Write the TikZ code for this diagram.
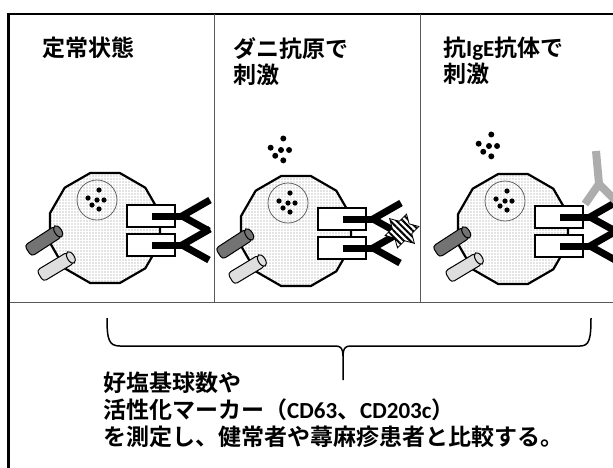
\documentclass[tikz,border=0pt]{standalone}
\usepackage{fontspec}
\setmainfont{Noto Sans CJK JP}[BoldFont={* Bold}]
\newfontfamily\lat{Carlito}
\usetikzlibrary{patterns.meta}

\definecolor{cyldark}{gray}{0.45}
\definecolor{cyllight}{gray}{0.87}
\definecolor{antigray}{gray}{0.68}

\tikzset{
  cellwall/.style={line width=2.2pt, preaction={fill=white},
    pattern={Dots[distance=3pt,radius=0.55pt]}, pattern color=gray!90},
  nucleus/.style={draw=gray!80!black, line width=0.8pt},
  recbox/.style={draw, line width=1.8pt, fill=white},
  ige/.style={line width=7pt, black},
  antiige/.style={line width=8pt, antigray},
  cylbody/.style={draw, line width=1pt, rounded corners=3.5pt},
  cylcap/.style={draw, line width=1pt},
  antigen/.style={draw, line width=0.8pt, preaction={fill=white},
    pattern={Lines[angle=-45,distance=4.5pt,line width=2pt]}},
  divider/.style={draw=gray!70!black, line width=1pt},
  headtxt/.style={anchor=north west, inner sep=0pt, align=left,
    font=\bfseries\fontsize{23}{26}\selectfont},
  bodytxt/.style={anchor=north west, inner sep=0pt, align=left,
    font=\bfseries\fontsize{23}{27}\selectfont},
  granules/.pic={
    \foreach \dx/\dy in {2/-10,-9/-2,0/0,7/0,-5/5,2/9}
      \fill (\dx,\dy) circle (2.6);
  }
}

\begin{document}
\begin{tikzpicture}[x=1pt,y=-1pt]
  \useasboundingbox (0,0) rectangle (613,467);
  \clip (0,0) rectangle (613,467);

  % the three basophils
  \foreach \cx/\cy in {105/228,296/231,513/229}{
    \begin{scope}[shift={(\cx,\cy)}]
      \draw[cellwall] (15:57) \foreach \a in {45,75,...,345}{ -- (\a:57)} -- cycle;
      \draw[nucleus] (-8,-28) circle (20);
      \pic at (-8,-28) {granules};
      % surface markers
      \begin{scope}[shift={(-77,23)},rotate=33]
        \filldraw[cylbody,fill=cyldark] (0,-6.5) rectangle (36,6.5);
        \filldraw[cylcap,fill=cyldark] (36,0) ellipse [x radius=3.5,y radius=6.5];
      \end{scope}
      \begin{scope}[shift={(-65,48)},rotate=31]
        \filldraw[cylbody,fill=cyllight] (0,-6.5) rectangle (36,6.5);
        \filldraw[cylcap,fill=cyllight] (36,0) ellipse [x radius=3.5,y radius=6.5];
      \end{scope}
      % receptors with IgE
      \foreach \ry in {-12,17}{
        \filldraw[recbox] (22,{\ry-11}) rectangle (70,{\ry+11});
        \draw[ige] (47,\ry) -- (78,\ry);
        \draw[ige] (105,{\ry-16}) -- (77,\ry) -- (104,{\ry+15});
      }
    \end{scope}
  }

  % released granules
  \pic[scale=1.15] at (281,150) {granules};
  \pic[scale=1.15] at (489,146) {granules};

  % mite antigen (six-pointed star)
  \begin{scope}[shift={(402,231)}]
    \draw[antigen] (105:17.5)
      \foreach \k in {1,...,11}{ -- ({105+30*\k}:{mod(\k,2)==0 ? 17.5 : 10.1})} -- cycle;
  \end{scope}
  % anti-IgE
  \draw[antiige] (596,151) -- (599,184);
  \draw[antiige] (585,204) -- (599,184) -- (617,202);

  % frame
  \draw[line width=2.5pt] (8,14) -- (615,14);
  \draw[line width=3pt] (8.5,12.75) -- (8.5,470);
  \draw[divider] (214,14) -- (214,302);
  \draw[divider] (420,14) -- (420,302);
  \draw[divider] (10,302) -- (615,302);

  % panel titles
  \node[headtxt] (steadyhead) at (42,37) {定常状態};
  \node[headtxt] (mitehead) at (233,37) {ダニ抗原で\\刺激};
  \node[headtxt] (igehead) at (443,37) {抗{\lat IgE}抗体で\\刺激};

  % brace over the three panels
  \coordinate (bracetip) at (343,380);
  \draw[line width=1.5pt] (107,318) .. controls (107,340) and (109,346) .. (120,346)
    -- (336,346) .. controls (341,346) and (343,349) .. (343,356) -- (bracetip);
  \draw[line width=1.5pt] (343,356) .. controls (343,349) and (345,346) .. (350,346)
    -- (580,346) .. controls (589,346) and (591,340) .. (591,318);

  \node[bodytxt] (result) at (103,372) {好塩基球数や\\活性化マーカー（{\lat CD63}、{\lat CD203c}）\\を測定し、健常者や蕁麻疹患者と比較する。};
\end{tikzpicture}
\end{document}
